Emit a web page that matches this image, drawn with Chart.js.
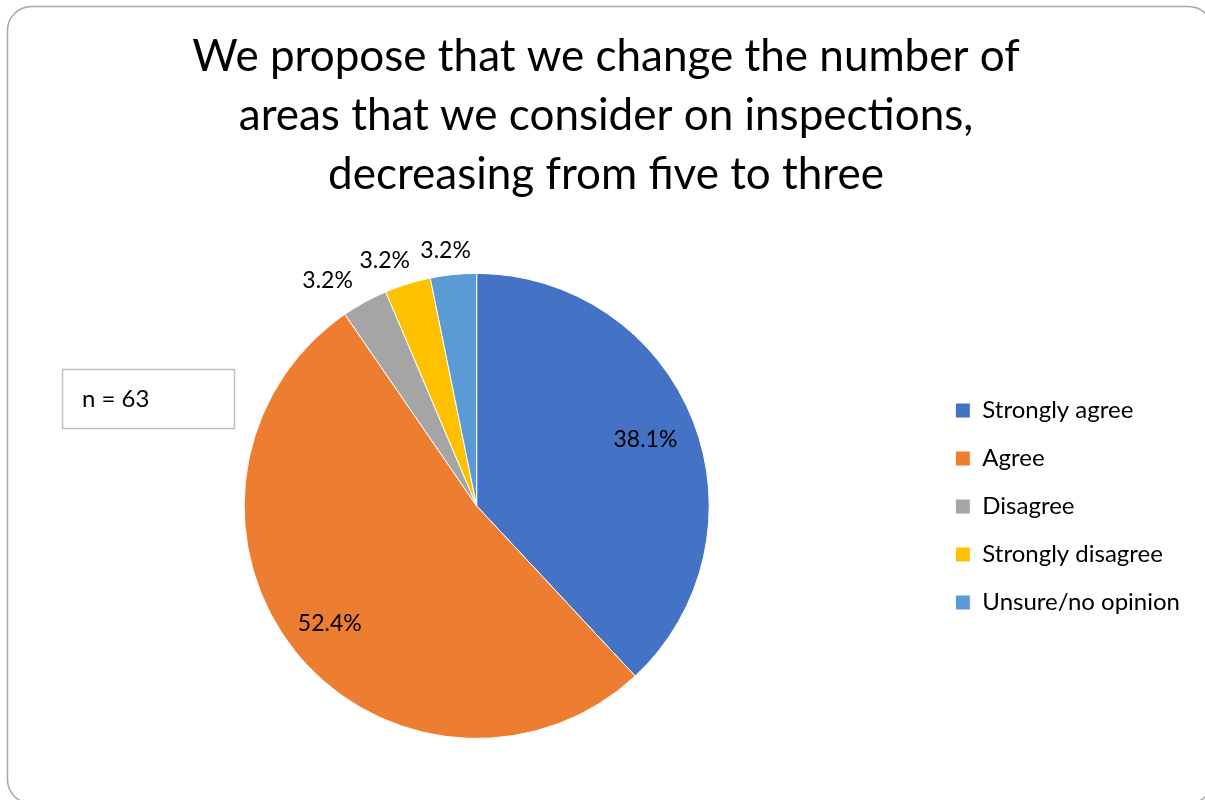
<!DOCTYPE html>
<html>
<head>
<meta charset="utf-8">
<script src="https://cdn.jsdelivr.net/npm/chart.js@4"></script>
<style>
  html, body { margin: 0; padding: 0; background: #ffffff; }
  #chartWrap { width: 1205px; height: 800px; }
</style>
</head>
<body>
<div id="chartWrap"><canvas id="proposalChart" width="1205" height="800"></canvas></div>
<script>
const categories = ["Strongly agree", "Agree", "Disagree", "Strongly disagree", "Unsure/no opinion"];
const percentages = [38.1, 52.4, 3.2, 3.2, 3.2];
const sliceColors = ["#4472C4", "#ED7D31", "#A5A5A5", "#FFC000", "#5B9BD5"];
const titleLines = [
  "We propose that we change the number of",
  "areas that we consider on inspections,",
  "decreasing from five to three"
];
const sampleLabel = "n = 63";

const fontFamily = "Lato, 'Open Sans', sans-serif";

// outer rounded frame around the whole slide
const framePlugin = {
  id: 'frame',
  beforeDraw(chart) {
    const ctx = chart.ctx;
    ctx.save();
    ctx.fillStyle = "#ffffff";
    ctx.fillRect(0, 0, chart.width, chart.height);
    ctx.strokeStyle = "#a6a6a6";
    ctx.lineWidth = 1.5;
    ctx.beginPath();
    ctx.roundRect(7.5, 6.5, 1205, 797, 24);
    ctx.stroke();
    ctx.restore();
  }
};

// "n = 63" text box on the left
const sampleBoxPlugin = {
  id: 'sampleBox',
  afterDraw(chart) {
    const ctx = chart.ctx;
    ctx.save();
    ctx.strokeStyle = "#bfbfbf";
    ctx.lineWidth = 1.5;
    ctx.strokeRect(62.5, 369.5, 172, 59);
    ctx.fillStyle = "#000000";
    ctx.font = "24px " + fontFamily;
    ctx.textAlign = "left";
    ctx.textBaseline = "middle";
    ctx.fillText(sampleLabel, 82, 399);
    ctx.restore();
  }
};

// percentage labels: big slices inside, thin slices just outside the rim
const sliceLabelPlugin = {
  id: 'sliceLabels',
  afterDatasetsDraw(chart) {
    const ctx = chart.ctx;
    const arcs = chart.getDatasetMeta(0).data;
    ctx.save();
    ctx.font = "23px " + fontFamily;
    ctx.fillStyle = "#000000";
    ctx.textAlign = "center";
    ctx.textBaseline = "middle";
    arcs.forEach((arc, i) => {
      const text = percentages[i].toFixed(1) + "%";
      const mid = (arc.startAngle + arc.endAngle) / 2;
      const cos = Math.cos(mid);
      const sin = Math.sin(mid);
      let x, y;
      if (percentages[i] > 10) {
        const k = i === 1 ? 0.81 : 0.78;
        x = arc.x + cos * arc.outerRadius * k;
        y = arc.y + sin * arc.outerRadius * k;
      } else {
        const halfW = ctx.measureText(text).width / 2;
        const halfH = 10;
        const gap = 14;
        x = arc.x + cos * (arc.outerRadius + gap) + cos * halfW * 2.5;
        y = arc.y + sin * (arc.outerRadius + gap) + sin * halfH;
      }
      ctx.fillText(text, x, y);
    });
    ctx.restore();
  }
};

const proposalChart = new Chart(document.getElementById('proposalChart').getContext('2d'), {
  type: 'pie',
  data: {
    labels: categories,
    datasets: [{
      data: percentages,
      backgroundColor: sliceColors,
      borderColor: "#ffffff",
      borderWidth: 1
    }]
  },
  options: {
    responsive: false,
    animation: false,
    layout: {
      padding: { left: 22, right: 15, top: 0, bottom: 61 }
    },
    plugins: {
      title: {
        display: true,
        text: titleLines,
        color: "#000000",
        font: { family: fontFamily, size: 44, weight: 'normal', lineHeight: 1.34 },
        padding: { top: 27, bottom: 69 }
      },
      legend: {
        position: 'right',
        // empty title only pushes the entries down to the middle of the pie
        title: {
          display: true,
          text: ' ',
          font: { size: 10, lineHeight: 1 },
          padding: { top: 264, bottom: 0 }
        },
        labels: {
          color: "#000000",
          font: { family: fontFamily, size: 24 },
          boxWidth: 15,
          boxHeight: 15,
          padding: 24
        }
      },
      tooltip: { enabled: false }
    }
  },
  plugins: [framePlugin, sampleBoxPlugin, sliceLabelPlugin]
});
</script>
</body>
</html>
